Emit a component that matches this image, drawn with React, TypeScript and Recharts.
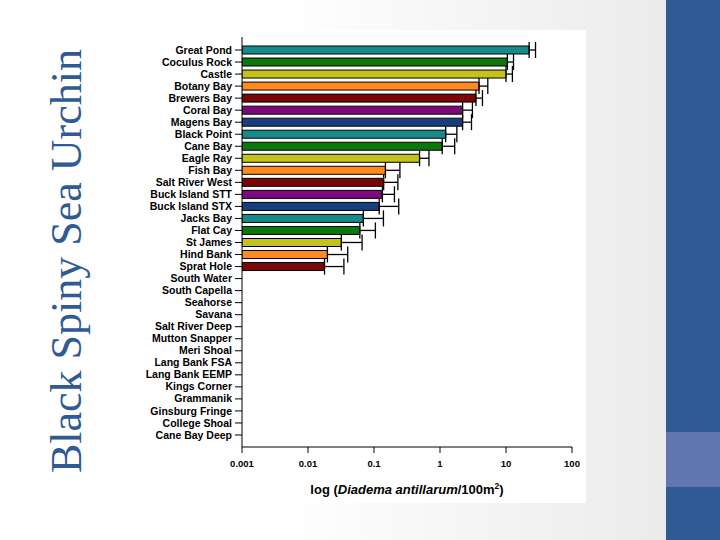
import React from 'react';
import {
  BarChart,
  Bar,
  XAxis,
  YAxis,
  Cell,
  ErrorBar,
  Label,
} from 'recharts';

// sites from top to bottom as in the figure
const sites = [
  'Great Pond', 'Coculus Rock', 'Castle', 'Botany Bay', 'Brewers Bay', 'Coral Bay',
  'Magens Bay', 'Black Point', 'Cane Bay', 'Eagle Ray', 'Fish Bay', 'Salt River West',
  'Buck Island STT', 'Buck Island STX', 'Jacks Bay', 'Flat Cay', 'St James', 'Hind Bank',
  'Sprat Hole', 'South Water', 'South Capella', 'Seahorse', 'Savana', 'Salt River Deep',
  'Mutton Snapper', 'Meri Shoal', 'Lang Bank FSA', 'Lang Bank EEMP', 'Kings Corner',
  'Grammanik', 'Ginsburg Fringe', 'College Shoal', 'Cane Bay Deep',
];

// Diadema per 100 m2 (null = none seen)
const density = [
  22.4, 10.5, 10, 3.9, 3.5, 2.2, 2.2, 1.22, 1.08, 0.49, 0.149, 0.14, 0.134, 0.12,
  0.069, 0.061, 0.032, 0.0197, 0.0178,
  null, null, null, null, null, null, null, null, null, null, null, null, null, null,
];

// upper error (SE) above the mean
const upperError = [
  5.6, 2.5, 2.5, 1.4, 0.9, 0.9, 0.8, 0.58, 0.59, 0.19, 0.098, 0.09, 0.07, 0.117,
  0.07, 0.044, 0.034, 0.0203, 0.0172,
  null, null, null, null, null, null, null, null, null, null, null, null, null, null,
];

const logTicks = [0.001, 0.01, 0.1, 1, 10, 100];
const tickLabels = ['0.001', '0.01', '0.1', '1', '10', '100'];

const palette = ['#178a8a', '#0c780c', '#c3c31c', '#ff8a20', '#7a0606', '#7e087e', '#173f7e'];

const data = sites.map((name, i) => ({
  name,
  value: density[i],
  err: upperError[i] == null ? null : [0, upperError[i]],
}));

const font = '"Liberation Sans", Arial, sans-serif';

function AxisTitle(props: any) {
  const vb = props.viewBox || {};
  const x = vb.x + vb.width / 2;
  const y = vb.y + 47;
  return (
    <text x={x} y={y} textAnchor="middle" fontFamily={font} fontSize={13} fontWeight="bold" fill="#000">
      log (<tspan fontStyle="italic">Diadema antillarum</tspan>/100m
      <tspan fontSize={8.5} dy={-5}>2</tspan>
      <tspan dy={5}>)</tspan>
    </text>
  );
}

// plain tick so long site names never wrap
function SiteTick(props: any) {
  const { x, y, payload } = props;
  return (
    <text x={x} y={y} dy={3.6} textAnchor="end" fontFamily={font} fontSize={10.5} fontWeight="bold" fill="#000">
      {payload.value}
    </text>
  );
}

export default function App() {
  return (
    <div style={{ position: 'absolute', left: 0, top: 0, width: 720, height: 540, overflow: 'hidden',
      background: 'linear-gradient(90deg, #ffffff 0px, #ffffff 280px, #ebebeb 666px)' }}>
      <div style={{ position: 'absolute', left: 666, top: 0, width: 54, height: 540, background: '#2e5a95' }} />
      <div style={{ position: 'absolute', left: 666, top: 432, width: 54, height: 55, background: '#6276b3' }} />
      <svg width={140} height={540} style={{ position: 'absolute', left: 0, top: 0 }}>
        <text x={81} y={261} transform="rotate(-90, 81, 261)" textAnchor="middle"
          fontFamily='"Liberation Serif", "Times New Roman", serif' fontSize={44} fill="#2f5a94">
          Black Spiny Sea Urchin
        </text>
      </svg>
      <div style={{ position: 'absolute', left: 140, top: 30, width: 446, height: 473, background: '#fff' }}>
        <BarChart
          width={446}
          height={473}
          data={data}
          layout="vertical"
          margin={{ top: 7, right: 14, left: 0, bottom: 0 }}
          barCategoryGap={2}
        >
          <XAxis
            type="number"
            scale="log"
            domain={[0.001, 100]}
            ticks={logTicks}
            allowDataOverflow
            tickFormatter={(v: number) => tickLabels[logTicks.indexOf(v)] ?? String(v)}
            height={56}
            stroke="#000"
            tickSize={6}
            tickMargin={7}
            tick={{ fill: '#000', fontSize: 9.5, fontWeight: 'bold', fontFamily: font }}
          >
            <Label content={<AxisTitle />} />
          </XAxis>
          <YAxis
            type="category"
            dataKey="name"
            width={102}
            interval={0}
            stroke="#000"
            tickSize={7}
            tickMargin={3}
            padding={{ top: 7, bottom: 6 }}
            tick={<SiteTick />}
          />
          <Bar dataKey="value" barSize={8} stroke="#000" strokeWidth={1} isAnimationActive={false}>
            {data.map((d, i) => (
              <Cell key={`cell-${i}`} fill={palette[i % palette.length]} />
            ))}
            <ErrorBar dataKey="err" direction="x" width={8} stroke="#000" strokeWidth={1.3} />
          </Bar>
        </BarChart>
      </div>
    </div>
  );
}
